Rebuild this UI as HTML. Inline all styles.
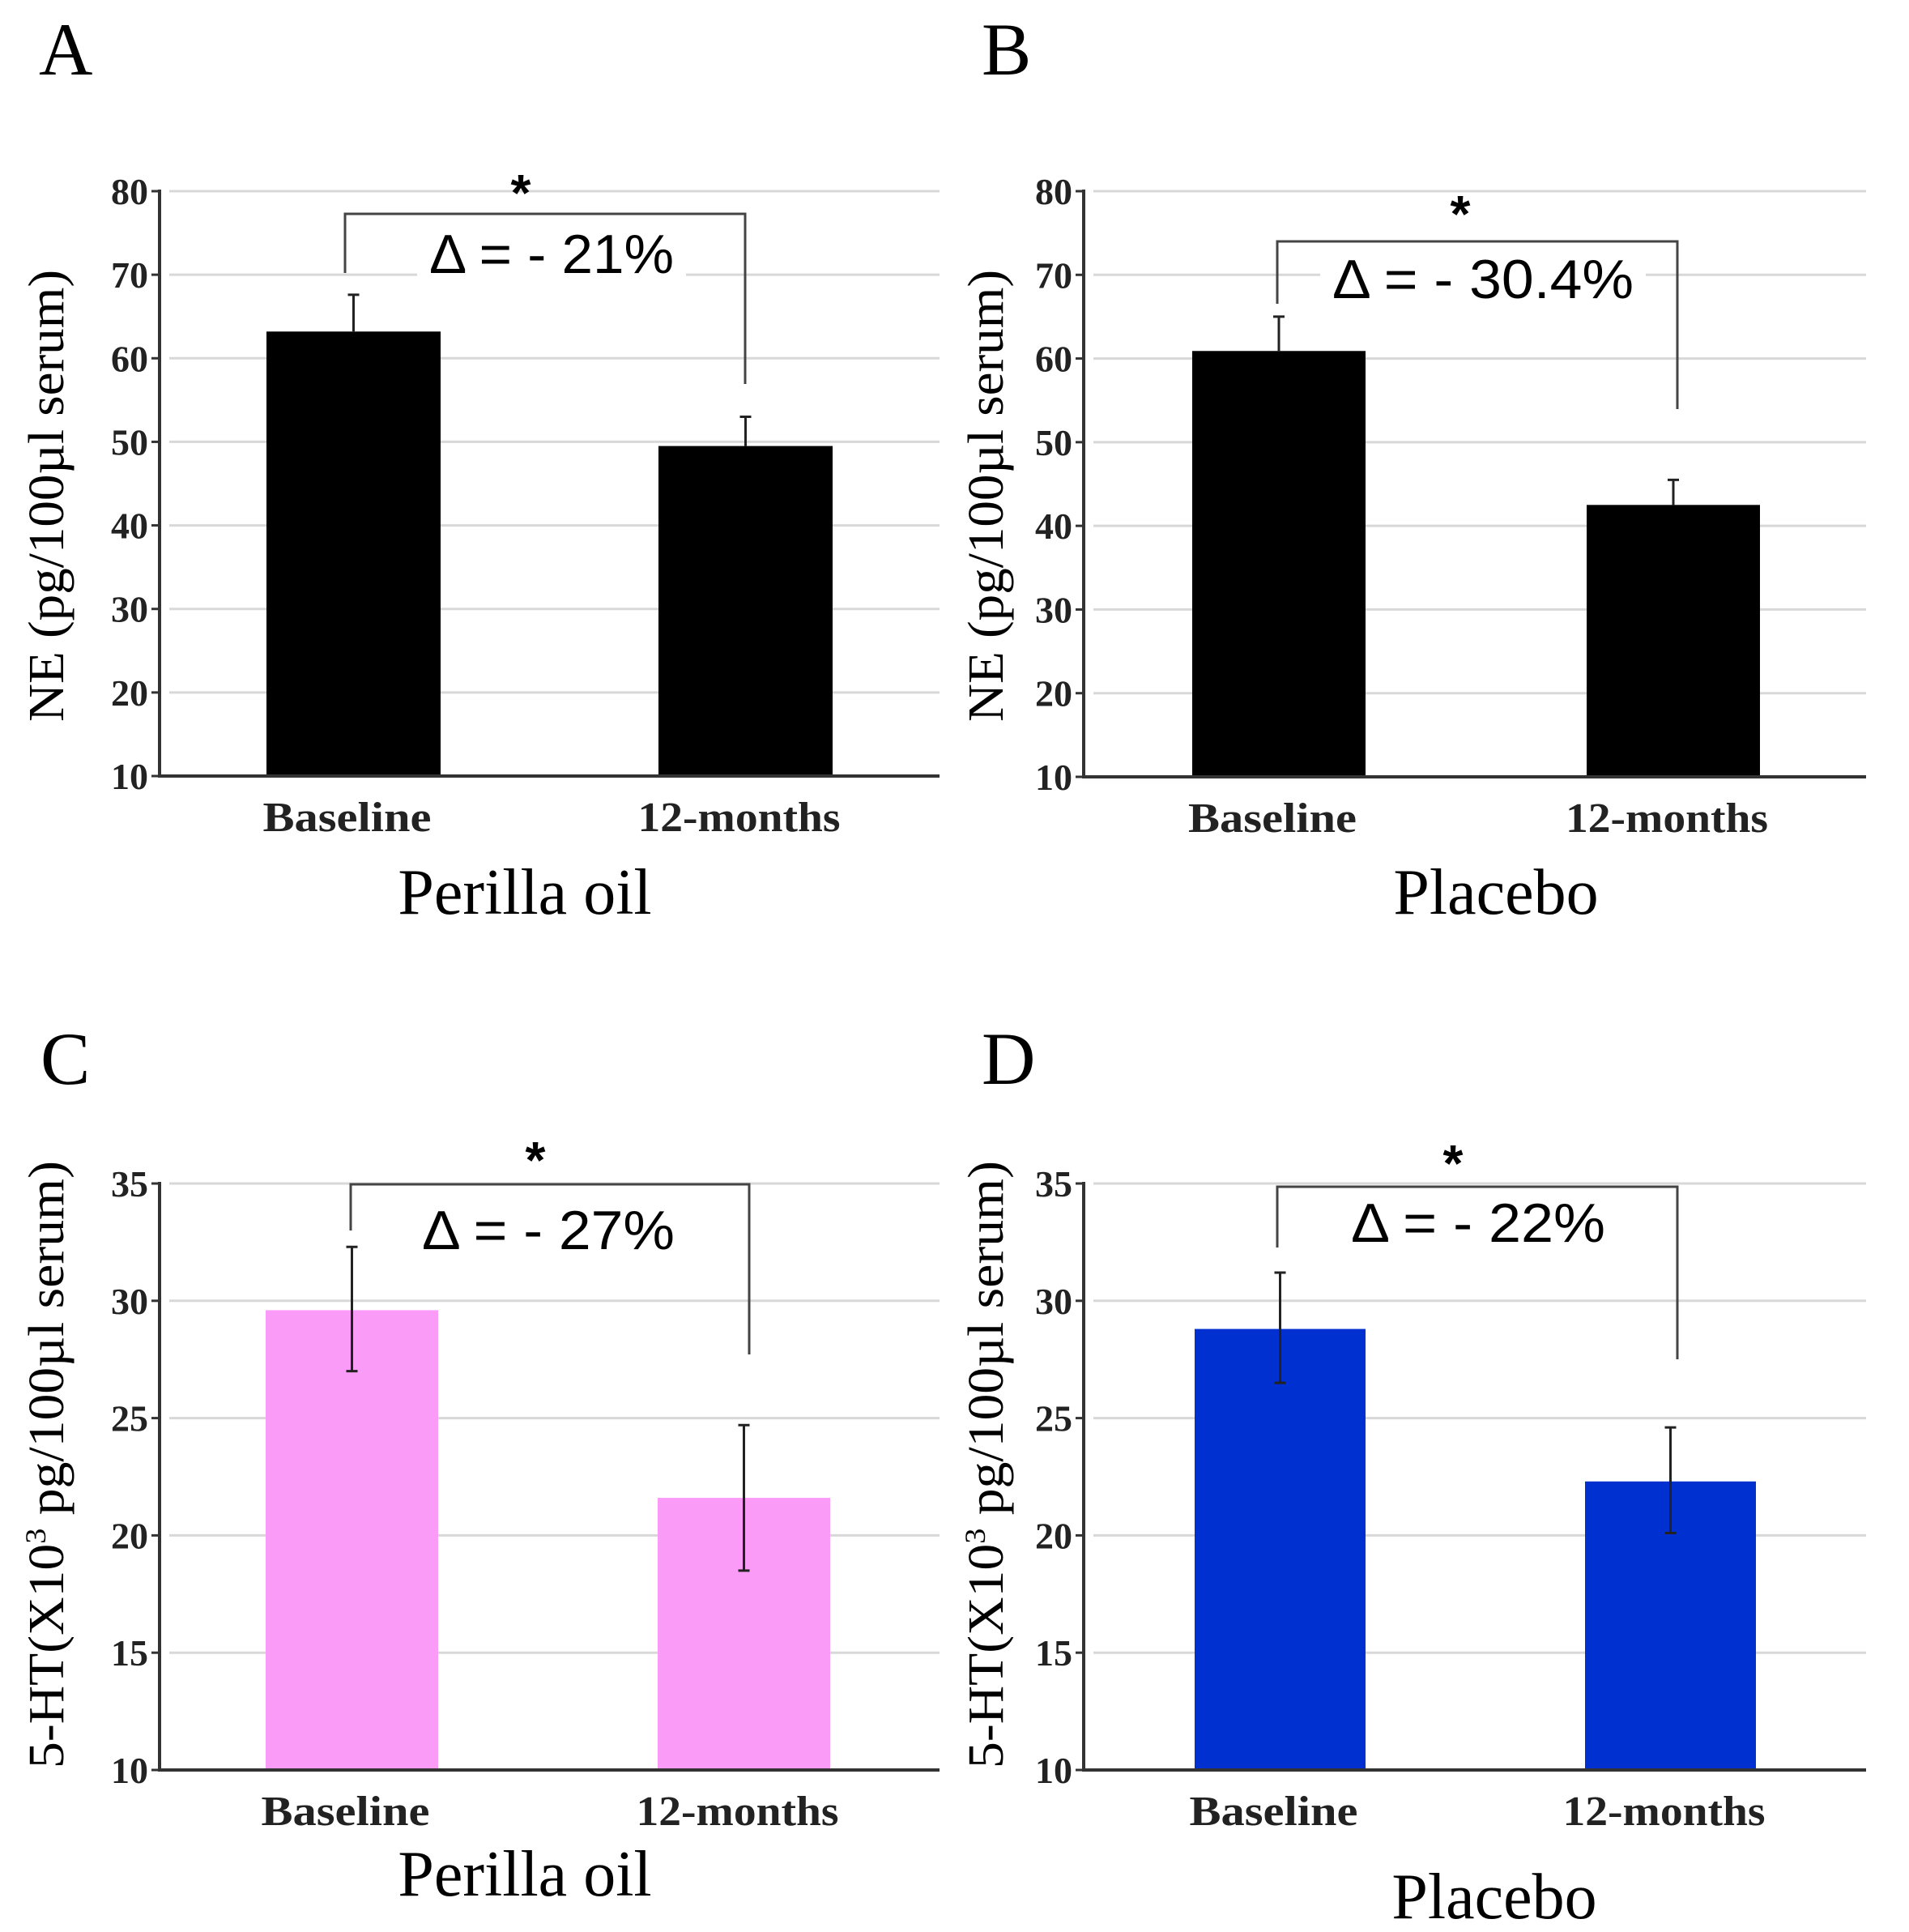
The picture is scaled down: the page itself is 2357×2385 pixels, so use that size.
<!DOCTYPE html>
<html><head><meta charset="utf-8"><style>html,body{margin:0;padding:0;background:#fff}svg{display:block}</style></head>
<body>
<svg id="fig" width="2357" height="2385" viewBox="0 0 2357 2385" xmlns="http://www.w3.org/2000/svg" font-family="'Liberation Serif', serif"></svg>
<script>
const categories = ["Baseline", "12-months"];
const valuesA = [63.2, 49.5];
const errUpA = [67.6, 53.0];
const errLoA = [63.2, 49.5];
const valuesB = [60.9, 42.5];
const errUpB = [65.0, 45.5];
const errLoB = [60.9, 42.5];
const valuesC = [29.6, 21.6];
const errUpC = [32.3, 24.7];
const errLoC = [27.0, 18.5];
const valuesD = [28.8, 22.3];
const errUpD = [31.2, 24.6];
const errLoD = [26.5, 20.1];
const ticksNE = [10, 20, 30, 40, 50, 60, 70, 80];
const ticksHT = [10, 15, 20, 25, 30, 35];
const deltaLabels = ["Δ = - 21%", "Δ = - 30.4%", "Δ = - 27%", "Δ = - 22%"];

const NS = "http://www.w3.org/2000/svg";
const svg = document.getElementById("fig");
const catLen = [208, 250];
function mk(tag, attrs, parent, text) {
  const e = document.createElementNS(NS, tag);
  for (const k in attrs) e.setAttribute(k, attrs[k]);
  if (text !== undefined) e.textContent = text;
  (parent || svg).appendChild(e);
  return e;
}

function panel(cfg) {
  const g = mk("g", {});
  
  
  const min = cfg.ticks[0], max = cfg.ticks[cfg.ticks.length - 1];
  const y = v => cfg.bottom - (v - min) / (max - min) * (cfg.bottom - cfg.top);
  const pl = mk("text", {x: cfg.letterX, y: cfg.letterY, "font-size": 92}, g, cfg.letter);
  
  
  cfg.ticks.forEach(t => {
    if (t !== min) {
      const gl = mk("line", {x1: cfg.axisX + 12, x2: cfg.right, y1: y(t), y2: y(t), stroke: "#d8d8d8", "stroke-width": 3}, g);
      
      
    }
    mk("line", {x1: cfg.axisX - 10, x2: cfg.axisX, y1: y(t), y2: y(t), stroke: "#333", "stroke-width": 3}, g);
    const tl = mk("text", {x: cfg.axisX - 14, y: y(t) + 16, "font-size": 46, "font-weight": "bold", "text-anchor": "end", fill: "#222"}, g, String(t));
    
    
  });
  cfg.values.forEach((v, i) => {
    const b = mk("rect", {x: cfg.barX[i], y: y(v), width: cfg.barW, height: cfg.bottom - y(v), fill: cfg.color}, g);
    
    
    const cx = cfg.barX[i] + cfg.barW / 2;
    const eb = mk("path", {d: `M${cx} ${y(cfg.errLo[i])}V${y(cfg.errUp[i])}M${cx-7} ${y(cfg.errUp[i])}H${cx+7}` + (cfg.errLo[i] < v ? `M${cx-7} ${y(cfg.errLo[i])}H${cx+7}` : ""), stroke: "#222", "stroke-width": 3, fill: "none"}, g);
    
    
    const cl = mk("text", {x: cx - 8, y: cfg.bottom + 68, "font-size": 52, "font-weight": "bold", "text-anchor": "middle", fill: "#222", textLength: catLen[i], lengthAdjust: "spacingAndGlyphs"}, g, categories[i]);
    
    
  });
  const ax = mk("path", {d: `M${cfg.axisX} ${cfg.top - 2}V${cfg.bottom}H${cfg.right}`, stroke: "#333", "stroke-width": 4, fill: "none"}, g);
  
  
  const yt = mk("text", {x: 0, y: 0, "font-size": 62, "text-anchor": "middle", transform: `translate(${cfg.titleX},${cfg.titleY}) rotate(-90)`, textLength: cfg.titleLen, lengthAdjust: "spacingAndGlyphs"}, g);
  
  
  if (cfg.key === "a" || cfg.key === "b") {
    yt.textContent = "NE (pg/100µl serum)";
  } else {
    mk("tspan", {}, yt, "5-HT(X10");
    mk("tspan", {dy: -22, "font-size": 36}, yt, "3");
    mk("tspan", {dy: 22}, yt, " pg/100µl serum)");
  }
  const xt = mk("text", {x: cfg.groupX, y: cfg.groupY, "font-size": 80, "text-anchor": "middle"}, g, cfg.group);
  
  
  const br = mk("path", {d: `M${cfg.br[0]} ${cfg.br[3]}V${cfg.br[1]}H${cfg.br[2]}V${cfg.br[4]}`, stroke: "#444", "stroke-width": 3, fill: "none"}, g);
  
  
  const bgw = cfg.deltaW + 30;
  mk("rect", {x: cfg.deltaX - bgw / 2, y: cfg.deltaY - 55, width: bgw, height: 70, fill: "#fff"}, g);
  const st = mk("text", {x: cfg.starX, y: cfg.starY + 30, "font-size": 64, "font-weight": "bold", "font-family": "'Liberation Sans', sans-serif", "text-anchor": "middle"}, g, "*");
  
  
  const dt = mk("text", {x: cfg.deltaX, y: cfg.deltaY, "font-size": 68, "font-family": "'Liberation Sans', sans-serif", "text-anchor": "middle", textLength: cfg.deltaW, lengthAdjust: "spacingAndGlyphs"}, g, cfg.delta);
  
  
}

panel({key:"a", letter:"A", letterX:48, letterY:92, ticks:ticksNE, values:valuesA, errUp:errUpA, errLo:errLoA, color:"#000",
  axisX:197, top:236, bottom:958, right:1160, barX:[329,813], barW:215,
  titleX:78, titleY:612, titleLen:558, group:"Perilla oil", groupX:648, groupY:1128,
  br:[426,264,920,337,474], starX:643, starY:230, delta:deltaLabels[0], deltaX:681, deltaY:337, deltaW:302});
panel({key:"b", letter:"B", letterX:1212, letterY:92, ticks:ticksNE, values:valuesB, errUp:errUpB, errLo:errLoB, color:"#000",
  axisX:1338, top:236, bottom:959, right:2304, barX:[1472,1959], barW:214,
  titleX:1238, titleY:612, titleLen:558, group:"Placebo", groupX:1847, groupY:1128,
  br:[1577,298,2071,375,505], starX:1803, starY:256, delta:deltaLabels[1], deltaX:1831, deltaY:368, deltaW:372});
panel({key:"c", letter:"C", letterX:50, letterY:1338, ticks:ticksHT, values:valuesC, errUp:errUpC, errLo:errLoC, color:"#fb9bf8",
  axisX:197, top:1461, bottom:2185, right:1160, barX:[328,812], barW:213,
  titleX:78, titleY:1808, titleLen:750, group:"Perilla oil", groupX:648, groupY:2340,
  br:[433,1462,925,1519,1672], starX:661, starY:1424, delta:deltaLabels[2], deltaX:677, deltaY:1542, deltaW:312});
panel({key:"d", letter:"D", letterX:1212, letterY:1338, ticks:ticksHT, values:valuesD, errUp:errUpD, errLo:errLoD, color:"#0030d0",
  axisX:1338, top:1461, bottom:2185, right:2304, barX:[1475,1957], barW:211,
  titleX:1238, titleY:1808, titleLen:750, group:"Placebo", groupX:1845, groupY:2368,
  br:[1577,1465,2071,1540,1678], starX:1794, starY:1428, delta:deltaLabels[3], deltaX:1825, deltaY:1533, deltaW:314});
</script>
</body></html>
